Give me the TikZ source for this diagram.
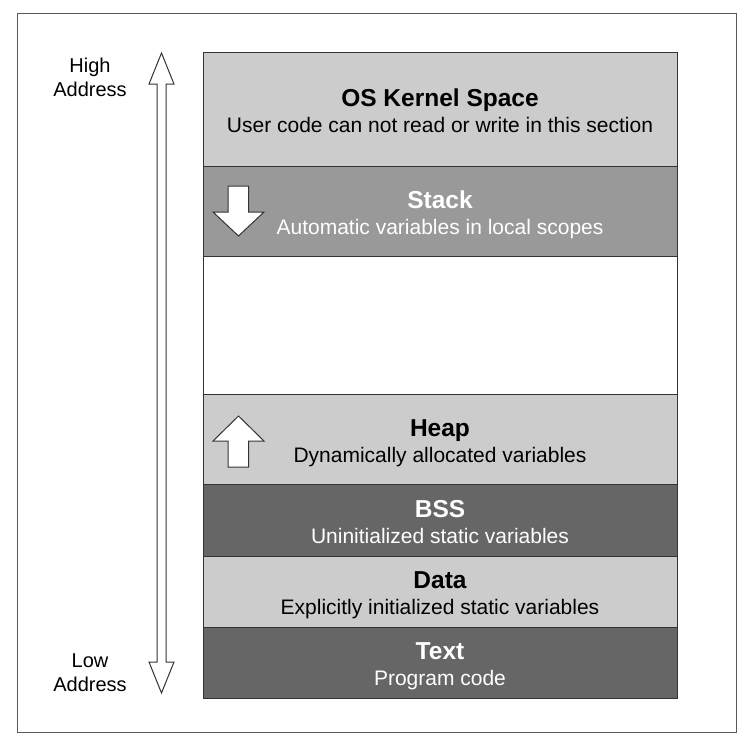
\documentclass[tikz,border=0pt]{standalone}
\usepackage{fontspec}
\setmainfont{Liberation Sans}
\definecolor{lightg}{HTML}{CCCCCC}
\definecolor{midg}{HTML}{999999}
\definecolor{darkg}{HTML}{666666}
\definecolor{edge}{HTML}{333333}
\begin{document}
\begin{tikzpicture}[x=1pt,y=-1pt,
  block/.style={draw=edge,line width=1pt,minimum width=474pt,inner sep=0pt,outer sep=0pt},
  ttl/.style={anchor=base,inner sep=0pt,font=\fontsize{24.5}{28}\selectfont\bfseries},
  sub/.style={anchor=base,inner sep=0pt,font=\fontsize{21}{26}\selectfont},
  side/.style={anchor=base,inner sep=0pt,font=\fontsize{20}{24}\selectfont},
  fatarrow/.style={draw=edge,fill=white,line width=1pt,line join=miter}]
\useasboundingbox (0,0) rectangle (752,747);
\draw[draw=black!65,line width=1pt] (17,13) rectangle (736,732);
% blocks
\node[block,fill=lightg,minimum height=114pt] (kernel) at (440,109) {};
\node[block,fill=midg,minimum height=90pt] (stack) at (440,211) {};
\node[block,fill=white,minimum height=138pt] (free) at (440,325) {};
\node[block,fill=lightg,minimum height=90pt] (heap) at (440,439) {};
\node[block,fill=darkg,minimum height=72pt] (bss) at (440,520) {};
\node[block,fill=lightg,minimum height=71pt] (data) at (440,591.5) {};
\node[block,fill=darkg,minimum height=71pt] (text) at (440,662.5) {};
% labels
\node[ttl] (kernelT) at (440,106) {OS Kernel Space};
\node[sub] (kernelS) at (440,132) {User code can not read or write in this section};
\node[ttl,text=white] (stackT) at (440,208) {Stack};
\node[sub,text=white] (stackS) at (440,234) {Automatic variables in local scopes};
\node[ttl] (heapT) at (440,436) {Heap};
\node[sub] (heapS) at (440,462) {Dynamically allocated variables};
\node[ttl,text=white] (bssT) at (440,517) {BSS};
\node[sub,text=white] (bssS) at (440,543) {Uninitialized static variables};
\node[ttl] (dataT) at (440,588.5) {Data};
\node[sub] (dataS) at (440,614.5) {Explicitly initialized static variables};
\node[ttl,text=white] (textT) at (440,659.5) {Text};
\node[sub,text=white] (textS) at (440,685.5) {Program code};
% side labels
\node[side] (high1) at (90,72.7) {High};
\node[side] (high2) at (90,96.7) {Address};
\node[side] (low1) at (90,667) {Low};
\node[side] (low2) at (90,691) {Address};
% address double arrow
\draw[fatarrow] (161.5,53) -- (174,84) -- (166,84) -- (166,662) -- (174,662) -- (161.5,693)
  -- (149,662) -- (157,662) -- (157,84) -- (149,84) -- cycle;
% stack arrow (down)
\draw[fatarrow] (228,186) -- (248.5,186) -- (248.5,212) -- (264,212) -- (238.5,236)
  -- (213,212) -- (228,212) -- cycle;
% heap arrow (up)
\draw[fatarrow] (238.5,416) -- (264,441) -- (248.5,441) -- (248.5,467) -- (228,467)
  -- (228,441) -- (213,441) -- cycle;
\end{tikzpicture}
\end{document}
